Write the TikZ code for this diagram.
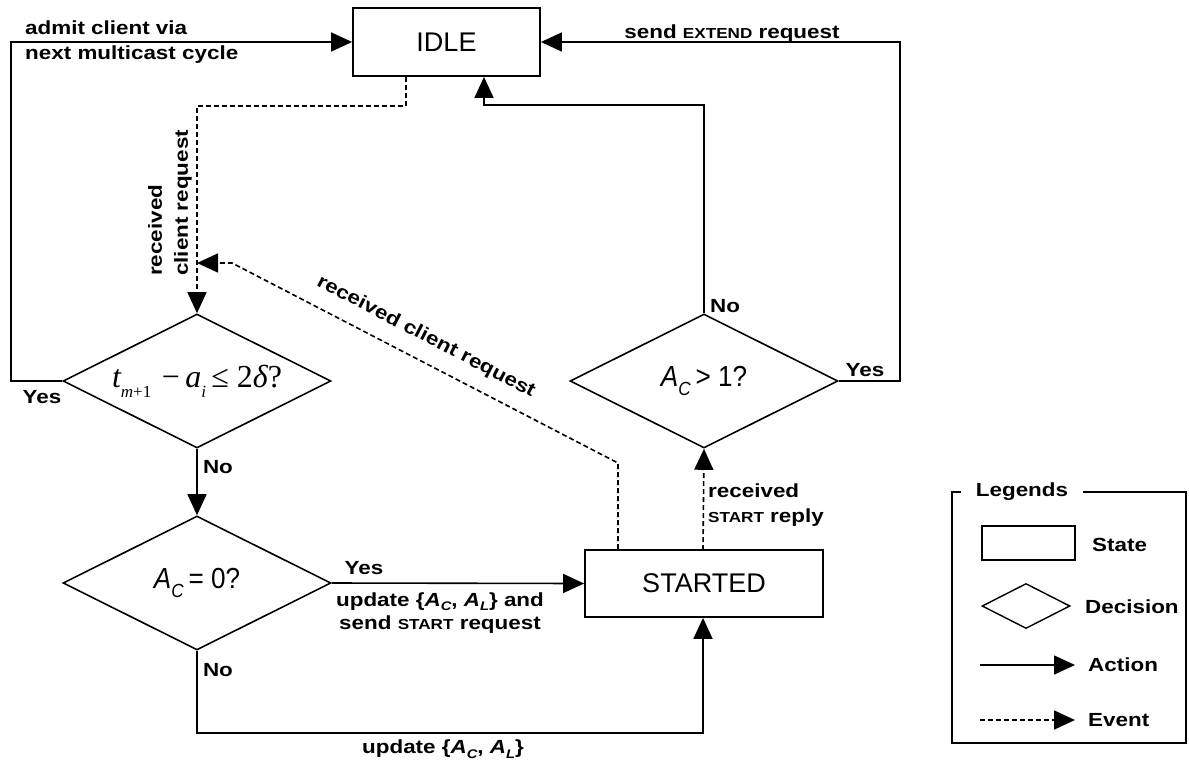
\documentclass[tikz,border=0pt]{standalone}
\usepackage{fontspec}
\setmainfont{Liberation Sans}
\newfontfamily\lblfont{Liberation Sans}[FakeStretch=1.18]
\newfontfamily\dfont{Liberation Sans}[FakeStretch=0.9]
\newfontfamily\tmsfont{Liberation Serif}
\usetikzlibrary{arrows.meta,shapes.geometric,calc}

% small capitals imitated with reduced upper case
\newcommand{\lsc}[1]{{\fontsize{14.5}{14.5}\selectfont #1}}
% variable with subscript inside bold labels
\newcommand{\bvar}[2]{\textit{#1}\raisebox{-0.25em}{\fontsize{12.5}{12.5}\selectfont\itshape #2}}
% variable with subscript inside decisions
\newcommand{\dvar}[2]{\textit{#1}\raisebox{-0.3em}{\fontsize{19}{19}\selectfont\itshape #2}}
% subscript for the serif condition
\newcommand{\tsub}[1]{\raisebox{-0.32em}{\fontsize{17}{17}\selectfont #1}}

\tikzset{
  statebox/.style={draw, line width=1.8pt, rectangle, inner sep=0pt,
    font=\fontsize{27}{27}\selectfont},
  decision/.style={draw, line width=1.6pt, diamond, shape aspect=2, inner sep=0pt,
    minimum width=268pt, minimum height=134pt},
  lbl/.style={inner sep=0pt, font=\lblfont\bfseries\fontsize{19}{25}\selectfont},
  action/.style={line width=1.6pt, line join=miter, -{Triangle[length=21pt,width=19pt]}},
  event/.style={action, line width=1.6pt, dash pattern=on 5pt off 3pt},
}

\begin{document}
\begin{tikzpicture}[x=1pt,y=-1pt]
\useasboundingbox (0,0) rectangle (1189,764);

% states
\node[statebox, minimum width=187pt, minimum height=68pt] (idle) at (446.5,42) {IDLE};
\node[statebox, minimum width=238pt, minimum height=67pt] (started) at (704,583.5) {STARTED};

% decisions
\node[decision] (d1) at (197,381)
  {\tmsfont\fontsize{32}{32}\selectfont\itshape t\tsub{m\upshape{+1}}\,{\upshape\,−\,}a\tsub{i}\,{\upshape ≤ 2}δ{\upshape ?}};
\node[decision] (d2) at (197,583)
  {\dfont\fontsize{29}{29}\selectfont\dvar{A}{C}\,= 0?};
\node[decision] (d3) at (704,381)
  {\dfont\fontsize{29}{29}\selectfont\dvar{A}{C}\,> 1?};

% routing points
\coordinate (lc) at (11,42);
\coordinate (rc) at (900,42);
\coordinate (nc) at (484,105);
\coordinate (ic) at (406,106);
\coordinate (bc) at (703,733);
\coordinate (sr) at (703,550);
\coordinate (ec1) at (618,463);
\coordinate (ec2) at (232,263);
\coordinate (ec3) at (197,263);

% actions
\draw[action] (d1.west) -| (lc) -- (idle.west);
\draw[action] (d3.east) -| (rc) -- (idle.east);
\draw[action] (d3.north) |- (nc) -- (nc |- idle.south);
\draw[action] (d1.south) -- (d2.north);
\draw[action] (d2.east) -- (started.west);
\draw[action] (d2.south) |- (bc) -- (bc |- started.south);

% events
\draw[event] (ic |- idle.south) -- (ic) -| (d1.north);
\draw[event] (sr) -- (d3.south);
\draw[event] (ec1 |- started.north) -- (ec1) -- (ec2) -- (ec3);

% labels
\node[lbl, anchor=west, align=left] (ladmit) at (25,42) {admit client via\\next multicast cycle};
\node[lbl] (lyes1) at (42,397) {Yes};
\node[lbl, anchor=base] (lext) at (732,38) {send \lsc{EXTEND} request};
\node[lbl] (lyes3) at (865,370) {Yes};
\node[lbl] (lno3) at (725,306) {No};
\node[lbl] (lno1) at (218,467) {No};
\node[lbl] (lno2) at (218,670) {No};
\node[lbl] (lyes2) at (364,568) {Yes};
\node[lbl, align=center, font=\lblfont\bfseries\fontsize{19}{23.5}\selectfont] (lupd) at (440,613)
  {update \{\bvar{A}{C}, \bvar{A}{L}\} and\\send \lsc{START} request};
\node[lbl] (lupd2) at (443,749) {update \{\bvar{A}{C}, \bvar{A}{L}\}};
\node[lbl, anchor=west, align=left] (lrep) at (708,505) {received\\\lsc{START} reply};
\node[lbl, rotate=90, anchor=west] (lrec1) at (155,276) {received};
\node[lbl, rotate=90, anchor=west] (lrec2) at (183,276) {client request};
\node[lbl, rotate=-27.4] (lrec3) at (426,337) {received client request};

% legend
\draw[line width=1.4pt] (952,492) rectangle (1186,743);
\node[lbl, fill=white, inner xsep=15pt, inner ysep=2pt] (legt) at (1022,492) {Legends};
\node[draw, line width=1.4pt, rectangle, minimum width=93pt, minimum height=34pt, inner sep=0pt] (lgs) at (1028.5,543) {};
\node[draw, line width=1.4pt, diamond, minimum width=88pt, minimum height=45pt, inner sep=0pt] (lgd) at (1026,606) {};
\coordinate (la1) at (980,665);
\coordinate (la2) at (1075,665);
\coordinate (le1) at (980,720);
\coordinate (le2) at (1075,720);
\draw[action] (la1) -- (la2);
\draw[event] (le1) -- (le2);
\node[lbl, anchor=west] (lgst) at (1092,545) {State};
\node[lbl, anchor=west] (lgde) at (1085,607) {Decision};
\node[lbl, anchor=west] (lgac) at (1088,665) {Action};
\node[lbl, anchor=west] (lgev) at (1088,720) {Event};
\end{tikzpicture}
\end{document}
